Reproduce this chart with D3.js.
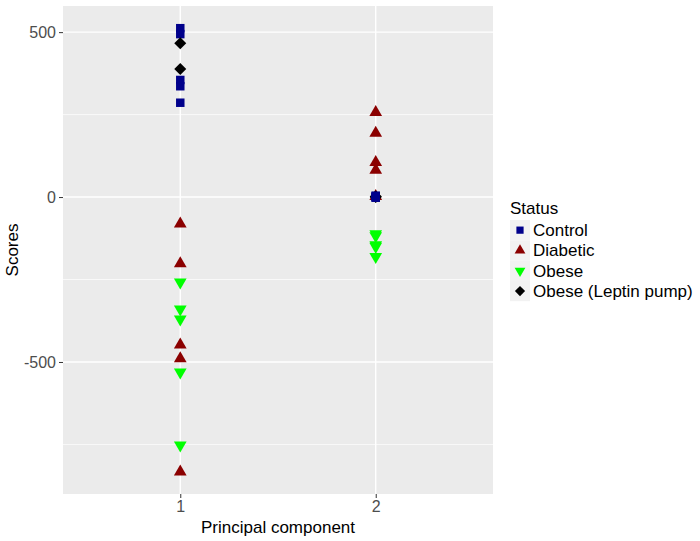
<!DOCTYPE html>
<html><head><meta charset="utf-8">
<script src="https://cdn.jsdelivr.net/npm/d3@7"></script>
<style>body{margin:0;background:#fff;}svg{display:block;font-family:"Liberation Sans",Arial,sans-serif;}</style>
</head><body>
<svg id="c" width="700" height="541"></svg>
<script>
const components = [1, 2];
const statuses = ["Control", "Diabetic", "Obese", "Obese (Leptin pump)"];
const colors = ["#00008B", "#8B0000", "#00FF00", "#000000"];
const yTicks = [-500, 0, 500];
const yMinor = [-750, -250, 250];

const controlPC1 = [512, 494, 355, 336, 286];
const controlPC2 = [4, -2, 1, 3, -1];
const diabeticPC1 = [-81, -202, -448, -490, -833];
const diabeticPC2 = [257, 194, 105, 82, 2];
const obesePC1 = [-258, -340, -370, -531, -752];
const obesePC2 = [-112, -118, -145, -150, -181];
const leptinPC1 = [466, 388];
const leptinPC2 = [0, 2];

const pts = [];
function add(status, comp, arr){ arr.forEach(v => pts.push({status, comp, v})); }
add("Control", 1, controlPC1);
add("Diabetic", 1, diabeticPC1);
add("Obese", 1, obesePC1);
add("Obese (Leptin pump)", 1, leptinPC1);
add("Diabetic", 2, diabeticPC2);
add("Obese", 2, obesePC2);
add("Obese (Leptin pump)", 2, leptinPC2);
add("Control", 2, controlPC2);

const svg = d3.select("#c");
const L = 63, R = 493, T = 6, B = 494;
const ext = d3.extent(pts, d => d.v);
const pad = (ext[1] - ext[0]) * 0.05;
const y = d3.scaleLinear().domain([ext[0] - pad, ext[1] + pad]).range([B, T]);
const x = d3.scaleLinear().domain([0.4, 2.6]).range([L, R]);
const color = d3.scaleOrdinal().domain(statuses).range(colors);

svg.append("rect").attr("x", L).attr("y", T).attr("width", R - L).attr("height", B - T).attr("fill", "#ebebeb");
const g = svg.append("g");
g.selectAll(".mn").data(yMinor).join("line")
  .attr("x1", L).attr("x2", R).attr("y1", d => y(d)).attr("y2", d => y(d))
  .attr("stroke", "#fff").attr("stroke-width", 0.7);
g.selectAll(".mj").data(yTicks).join("line")
  .attr("x1", L).attr("x2", R).attr("y1", d => y(d)).attr("y2", d => y(d))
  .attr("stroke", "#fff").attr("stroke-width", 1.4);
g.selectAll(".mx").data(components).join("line")
  .attr("y1", T).attr("y2", B).attr("x1", d => x(d)).attr("x2", d => x(d))
  .attr("stroke", "#fff").attr("stroke-width", 1.4);

function symPath(status){
  if (status === "Control") return d3.symbol(d3.symbolSquare, 72)();
  if (status === "Diabetic") return d3.symbol(d3.symbolTriangle, 70)();
  if (status === "Obese") return d3.symbol(d3.symbolTriangle, 70)();
  return "M0,-6L6,0L0,6L-6,0Z";
}
function symTransform(status){ return status === "Obese" ? " rotate(180)" : ""; }

g.selectAll(".pt").data(pts).join("path")
  .attr("d", d => symPath(d.status))
  .attr("transform", d => `translate(${x(d.comp)},${y(d.v)})` + symTransform(d.status))
  .attr("fill", d => color(d.status));

// axes
const fmt = d => String(d);
const yAxis = svg.append("g").attr("transform", `translate(${L},0)`)
  .call(d3.axisLeft(y).tickValues(yTicks).tickSize(4).tickPadding(3).tickFormat(fmt));
const xAxis = svg.append("g").attr("transform", `translate(0,${B})`)
  .call(d3.axisBottom(x).tickValues(components).tickSize(4).tickPadding(3).tickFormat(fmt));
[yAxis, xAxis].forEach(a => {
  a.select(".domain").remove();
  a.selectAll(".tick line").attr("stroke", "#333").attr("stroke-width", 1);
  a.selectAll(".tick text").attr("fill", "#4d4d4d").attr("font-size", 16).attr("font-family", "Liberation Sans, Arial, sans-serif");
});

svg.append("text").attr("x", (L + R) / 2).attr("y", 533).attr("text-anchor", "middle")
  .attr("font-size", 17).attr("fill", "#000").text("Principal component");
svg.append("text").attr("transform", `translate(18,${(T + B) / 2}) rotate(-90)`).attr("text-anchor", "middle")
  .attr("font-size", 17).attr("fill", "#000").text("Scores");

// legend
const lg = svg.append("g");
lg.append("text").attr("x", 510).attr("y", 214).attr("font-size", 17).attr("fill", "#000").text("Status");
const rowH = 20.3, y0 = 220;
const rows = lg.selectAll(".row").data(statuses).join("g")
  .attr("transform", (d, i) => `translate(510,${y0 + i * rowH})`);
rows.append("rect").attr("width", 20).attr("height", rowH).attr("fill", "#f2f2f2");
rows.append("path").attr("d", d => symPath(d))
  .attr("fill", d => color(d))
  .attr("transform", d => `translate(10,${rowH / 2}) scale(0.85)` + symTransform(d));
rows.append("text").attr("x", 23).attr("y", rowH / 2 + 6).attr("font-size", 17).attr("fill", "#000").text(d => d);
</script>
</body></html>
